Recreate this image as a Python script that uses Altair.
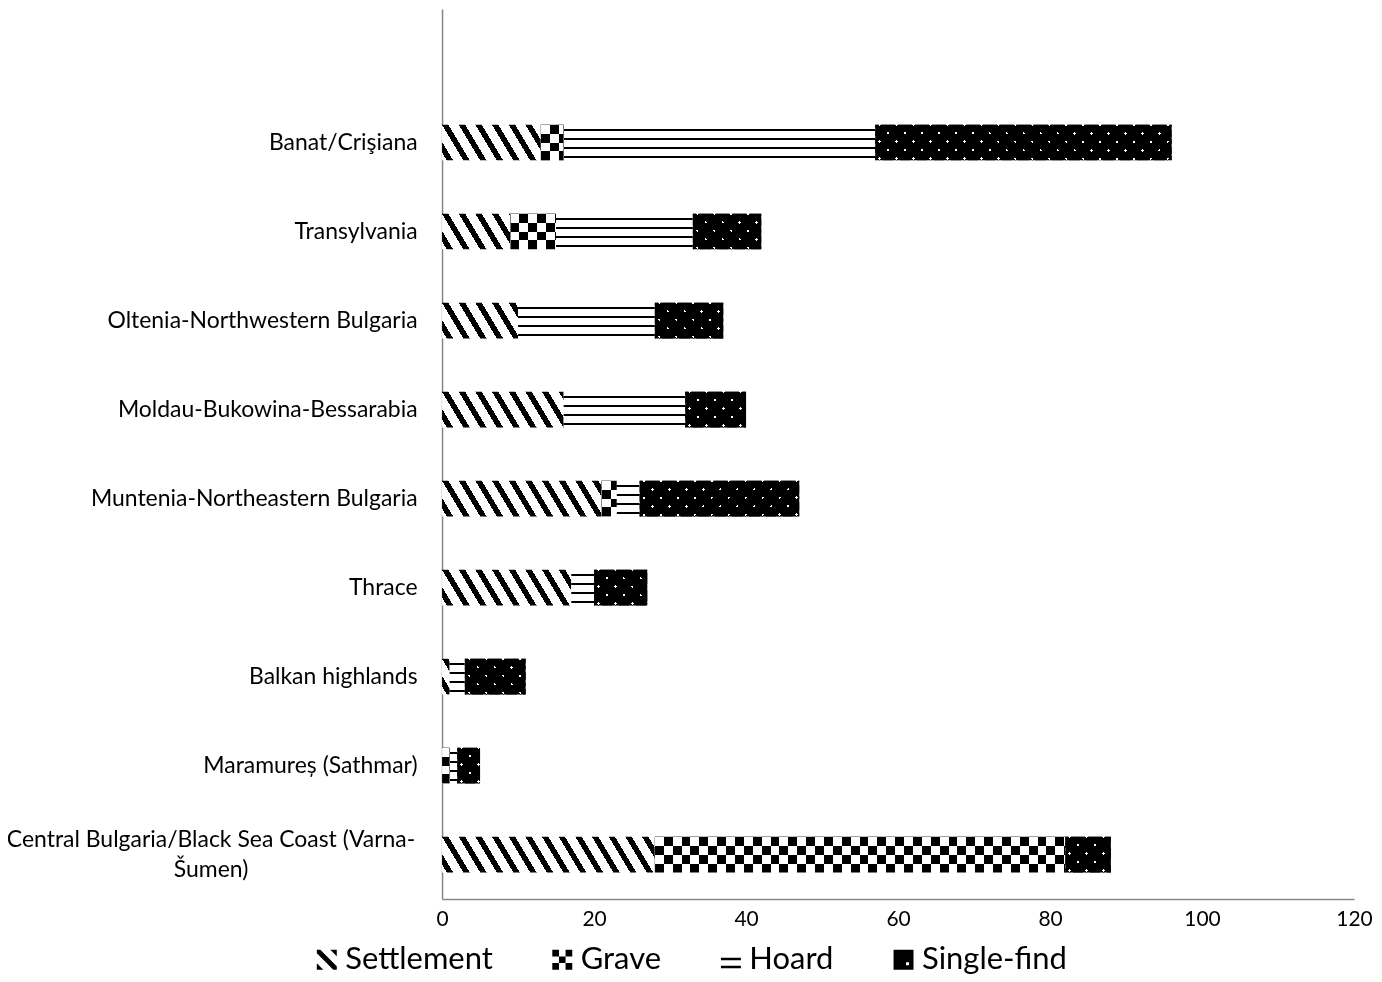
import math
import altair as alt

# ---------------- data ----------------
regions = [
    "Banat/Crişiana",
    "Transylvania",
    "Oltenia-Northwestern Bulgaria",
    "Moldau-Bukowina-Bessarabia",
    "Muntenia-Northeastern Bulgaria",
    "Thrace",
    "Balkan highlands",
    "Maramureș (Sathmar)",
    "Central Bulgaria/Black Sea Coast (Varna-Šumen)",
]
types = ["Settlement", "Grave", "Hoard", "Single-find"]
settlement = [13, 9, 10, 16, 21, 17, 1, 0, 28]
grave = [3, 6, 0, 0, 2, 0, 0, 1, 54]
hoard = [41, 18, 18, 16, 3, 3, 2, 1, 0]
single_find = [39, 9, 9, 8, 21, 7, 8, 3, 6]
x_ticks = [0, 20, 40, 60, 80, 100, 120]

# ---------------- layout constants ----------------
W_PLOT = 914
H_PLOT = 892
X_MAX = 120
PAD_INNER = 0.6
N_ROWS = len(regions) + 1          # one empty category on top, as in the original
PX = W_PLOT / X_MAX
BAR_H = H_PLOT / N_ROWS * (1 - PAD_INNER)
FONT = "Lato"
BLACK, WHITE = "#000000", "#ffffff"


def stripes(w, h, alpha, beta, period, on_w, on_c, off_c, phase=0.0):
    """Linear gradient (bounding-box units) that draws stripes along the
    iso-lines alpha*X + beta*Y = const, measured in pixels inside the bar."""
    corners = [(0, 0), (1, 0), (0, 1), (1, 1)]
    qs = [(alpha * u * w + beta * v * h, (u, v)) for u, v in corners]
    qmin, s = min(qs)
    qmax = max(q for q, _ in qs)
    span = qmax - qmin
    c = span / (alpha * alpha * w * w + beta * beta * h * h)
    a, b = c * alpha * w, c * beta * h
    x1, y1 = s

    def t(q):
        return round(min(1.0, max(0.0, (q - qmin) / span)), 5)

    stops = []
    k = math.floor((qmin + phase) / period) - 1
    while k * period - phase <= qmax:
        st = k * period - phase
        for qa, qb, col in ((st, st + on_w, on_c), (st + on_w, st + period, off_c)):
            if qb <= qmin or qa >= qmax:
                continue
            stops.append({"offset": t(qa), "color": col})
            stops.append({"offset": t(qb), "color": col})
        k += 1
    return {"gradient": "linear", "x1": x1, "y1": y1,
            "x2": x1 + a, "y2": y1 + b, "stops": stops}


SQ = BAR_H / 4            # checker square
DOT_P = BAR_H / 2.1       # dot lattice period


def patterns(kind, value):
    w = max(value * PX, 1.0)
    h = BAR_H
    if kind == "Settlement":
        return stripes(w, h, 1, -0.6, 16.7, 6.4, BLACK, WHITE), None
    if kind == "Grave":
        base = stripes(w, h, 0, 1, 2 * SQ, SQ, BLACK, WHITE)
        over = stripes(w, h, 1, 0, 2 * SQ, SQ, WHITE, BLACK)
        return base, over
    if kind == "Hoard":
        return stripes(w, h, 0, 1, h / 4, 1.8, BLACK, WHITE, phase=-0.12 * h), None
    # Single-find
    base = stripes(w, h, 1, 1, DOT_P, 2.8, WHITE, BLACK, phase=-3)
    over = stripes(w, h, 1, -1, DOT_P, 2.8, WHITE, BLACK, phase=-3)
    return base, over


series = [settlement, grave, hoard, single_find]
records = []
for i, reg in enumerate(regions):
    for j, typ in enumerate(types):
        v = series[j][i]
        if v <= 0:
            continue
        g1, g2 = patterns(typ, v)
        rec = {"region": reg, "type": typ, "order": j, "value": v, "g1": g1}
        if g2 is not None:
            rec["g2"] = g2
        records.append(rec)

# legend keys drawn as custom symbols in a [-1, 1] box
key_paths = [
    "M-1,-1L-0.65,-1L1,0.65L1,1L0.65,1L-1,-0.65Z"
    "M0.35,-1L1,-1L1,-0.35ZM-1,0.35L-1,1L-0.35,1Z",
    "M-1,-1H-0.33V-0.33H-1ZM0.33,-1H1V-0.33H0.33Z"
    "M-0.33,-0.33H0.33V0.33H-0.33Z"
    "M-1,0.33H-0.33V1H-1ZM0.33,0.33H1V1H0.33Z",
    "M-1,-0.2H1V0.05H-1ZM-1,0.6H1V0.85H-1Z",
    "M-1,-1H1V1H-1ZM0.25,0.25V0.55H0.55V0.25Z",
]

TWO_LINE = "indexof(datum.label, 'Varna') >= 0"

data = alt.Data(values=records)
y_enc = alt.Y(
    "region:N",
    scale=alt.Scale(domain=[""] + regions, paddingInner=PAD_INNER,
                    paddingOuter=PAD_INNER / 2),
    axis=alt.Axis(
        title=None, ticks=False, grid=False, labelFont=FONT, labelFontSize=23,
        labelColor="#000000", labelLimit=700, labelLineHeight=30,
        labelPadding={"condition": {"test": TWO_LINE, "value": 232}, "value": 25},
        labelAlign={"condition": {"test": TWO_LINE, "value": "center"}, "value": "right"},
        labelOffset={"condition": {"test": TWO_LINE, "value": -15}, "value": 0},
        labelExpr="split(replace(datum.label, 'Varna-', 'Varna-|'), '|')",
        domainColor="#878787", domainWidth=1.5,
    ),
)
x_enc = alt.X(
    "x0:Q",
    scale=alt.Scale(domain=[0, X_MAX], nice=False),
    axis=alt.Axis(
        title=None, ticks=False, grid=False, values=x_ticks, labelFont=FONT,
        labelFontSize=21, labelColor="#000000", labelPadding=9,
        labelFlush=False, domainColor="#878787", domainWidth=1.5,
    ),
)

base = alt.Chart(data).transform_stack(
    stack="value", groupby=["region"], as_=["x0", "x1"],
    sort=[alt.SortField("order", order="ascending")],
)

bars = base.mark_bar().encode(
    y=y_enc, x=x_enc, x2="x1:Q", fill=alt.Fill("g1:N", scale=None)
)
grave_over = base.transform_filter("datum.type == 'Grave'").mark_bar(
    blend="difference"
).encode(y=y_enc, x=x_enc, x2="x1:Q", fill=alt.Fill("g2:N", scale=None))
single_over = base.transform_filter("datum.type == 'Single-find'").mark_bar(
    blend="multiply"
).encode(y=y_enc, x=x_enc, x2="x1:Q", fill=alt.Fill("g2:N", scale=None))

legend_layer = alt.Chart(data).transform_filter("false").mark_point(
    filled=True, fill="black", opacity=1
).encode(
    shape=alt.Shape(
        "type:N",
        scale=alt.Scale(domain=types, range=key_paths),
        legend=alt.Legend(
            title=None, orient="none", direction="horizontal",
            legendX=-131, legendY=937, symbolSize=400,
            symbolFillColor="black", symbolStrokeWidth=0, symbolOpacity=1,
            labelFont=FONT, labelFontSize=31, labelColor="#000000",
            labelOffset=3, columnPadding=54, labelLimit=400,
        ),
    )
)

chart = alt.layer(bars, grave_over, single_over, legend_layer).properties(
    width=W_PLOT, height=H_PLOT,
    autosize=alt.AutoSizeParams(type="none"),
    padding={"left": 435, "top": 0, "right": 20, "bottom": 75},
).configure(background="white").configure_view(strokeWidth=0)

chart.save("out.html", embed_options={"renderer": "svg", "actions": False})
